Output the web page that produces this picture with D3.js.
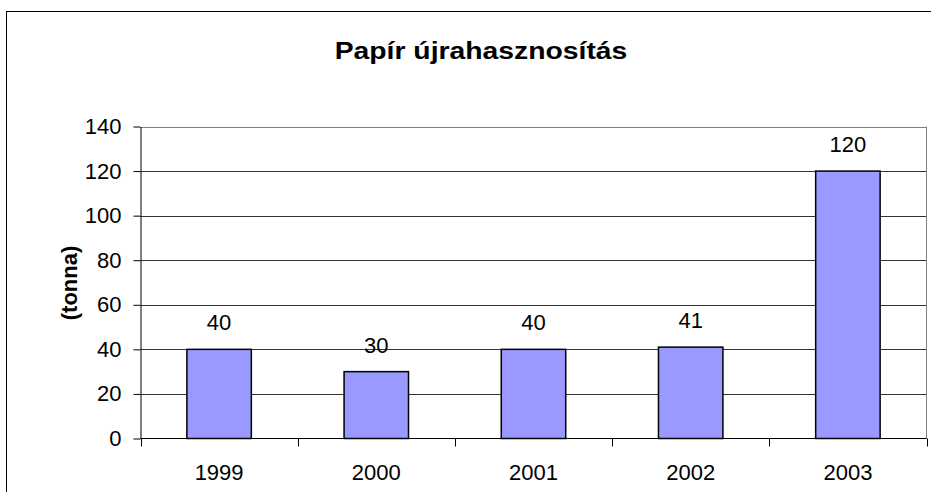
<!DOCTYPE html>
<html><head><meta charset="utf-8">
<script src="https://cdn.jsdelivr.net/npm/d3@7"></script>
<style>body{margin:0;background:#fff}svg{display:block}</style>
</head><body>
<svg id="c" width="931" height="492"></svg>
<script>
const categories = ["1999","2000","2001","2002","2003"];
const values = [40,30,40,41,120];
const yTicks = [0,20,40,60,80,100,120,140];
const title = "Papír újrahasznosítás";
const yLabel = "(tonna)";

const svg = d3.select("#c");
const font = "Liberation Sans, Arial, sans-serif";
const m = {left:140.5, right:926.5, top:126.5, bottom:438.5};

svg.append("rect").attr("x",6.5).attr("y",11.5).attr("width",1000).attr("height",1000)
  .attr("fill","#fff").attr("stroke","#000").attr("stroke-width",1);

const x = d3.scaleBand().domain(categories).range([m.left,m.right]).paddingInner(0.59).paddingOuter(0.295);
const y = d3.scaleLinear().domain([0,140]).range([m.bottom,m.top]);

// gridlines
svg.append("g").selectAll("line").data(yTicks.filter(d=>d>0)).join("line")
  .attr("x1",m.left).attr("x2",m.right)
  .attr("y1",d=>Math.round(y(d))+0.5).attr("y2",d=>Math.round(y(d))+0.5)
  .attr("stroke",d=>d===140?"#808080":"#333").attr("stroke-width",1);
// right border of plot area
svg.append("line").attr("x1",m.right).attr("x2",m.right).attr("y1",m.top).attr("y2",m.bottom)
  .attr("stroke","#808080");

// bars
svg.append("g").selectAll("rect").data(values).join("rect")
  .attr("x",(d,i)=>x(categories[i]))
  .attr("y",d=>y(d))
  .attr("width",x.bandwidth())
  .attr("height",d=>y(0)-y(d))
  .attr("fill","#9999FF").attr("stroke","#000").attr("stroke-width",1.5);

// value labels
svg.append("g").selectAll("text").data(values).join("text")
  .attr("x",(d,i)=>x(categories[i])+x.bandwidth()/2)
  .attr("y",d=>y(d)-19)
  .attr("text-anchor","middle").attr("font-family",font).attr("font-size",22)
  .text(d=>d);

// y axis
const ya = svg.append("g").attr("transform",`translate(${m.left},0)`)
  .call(d3.axisLeft(y).tickValues(yTicks).tickSize(7).tickPadding(12).tickSizeOuter(0));
ya.select(".domain").attr("stroke","#000");
ya.selectAll(".tick line").attr("stroke","#000");
ya.selectAll("text").attr("font-family",font).attr("font-size",22).attr("fill","#000");

// x axis
const xa = svg.append("g").attr("transform",`translate(0,${m.bottom})`)
  .call(d3.axisBottom(x).tickSize(0).tickPadding(26).tickSizeOuter(0));
xa.select(".domain").attr("stroke","#000").attr("d",`M${m.left},0H${m.right}`);
xa.selectAll("text").attr("font-family",font).attr("font-size",22).attr("fill","#000");
// category boundary ticks
const step = x.step();
svg.append("g").selectAll("line").data(d3.range(categories.length+1)).join("line")
  .attr("x1",i=>Math.round(m.left + i*step)+0.5).attr("x2",i=>Math.round(m.left + i*step)+0.5)
  .attr("y1",m.bottom).attr("y2",m.bottom+8).attr("stroke","#000");

// title
svg.append("text").attr("transform","translate(481,59) scale(1.18,1)").attr("text-anchor","middle")
  .attr("font-family",font).attr("font-weight","bold").attr("font-size",24).text(title);
// y label
svg.append("text").attr("transform","translate(77,283) rotate(-90)").attr("text-anchor","middle")
  .attr("font-family",font).attr("font-weight","bold").attr("font-size",22).text(yLabel);
</script>
</body></html>
